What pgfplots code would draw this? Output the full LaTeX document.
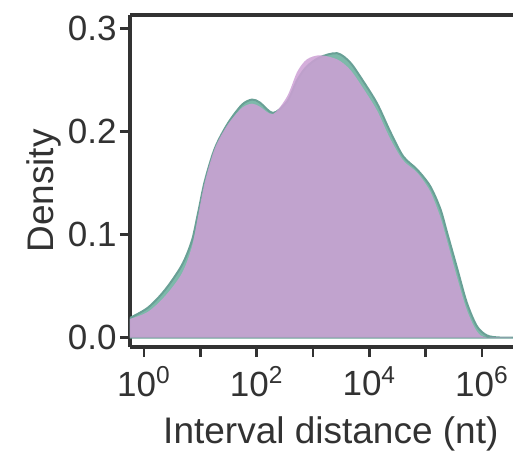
\documentclass[border=0pt]{standalone}
\usepackage{fontspec}
\setmainfont{Liberation Sans}
\usepackage{pgfplots}
\pgfplotsset{compat=1.18}
\usepackage{pgfplotstable}
\definecolor{tealfill}{RGB}{125,185,170}
\definecolor{tealline}{RGB}{105,160,150}
\definecolor{purp}{RGB}{205,160,213}
\definecolor{axgray}{RGB}{50,50,50}
\pgfplotstableread{
lx d
-0.25 0.019
0.07 0.029
0.37 0.046
0.67 0.070
0.85 0.094
0.96 0.121
1.08 0.152
1.26 0.184
1.49 0.208
1.74 0.226
1.92 0.231
2.06 0.228
2.29 0.218
2.54 0.229
2.72 0.250
2.89 0.263
3.12 0.272
3.43 0.276
3.66 0.267
3.89 0.249
4.14 0.227
4.37 0.200
4.60 0.176
4.85 0.163
5.08 0.147
5.26 0.125
5.38 0.102
5.56 0.067
5.73 0.034
5.91 0.011
6.09 0.002
6.32 0.0
6.68 0.0
}\teal
\pgfplotstableread{
lx d
-0.25 0.018
0.07 0.025
0.37 0.040
0.67 0.062
0.85 0.088
0.96 0.118
1.08 0.151
1.26 0.184
1.49 0.207
1.74 0.223
1.92 0.227
2.06 0.224
2.29 0.217
2.54 0.234
2.72 0.258
2.89 0.270
3.12 0.274
3.43 0.270
3.66 0.260
3.89 0.242
4.14 0.220
4.37 0.193
4.60 0.172
4.85 0.160
5.08 0.142
5.26 0.117
5.38 0.094
5.56 0.058
5.73 0.027
5.91 0.006
6.09 0.0
6.68 0.0
}\purple
\begin{document}
\begin{tikzpicture}
\begin{axis}[
  at={(0,0)}, anchor=south west,
  scale only axis, width=195pt, height=166pt,
  xmin=-0.2485, xmax=6.675,
  ymin=-0.0092, ymax=0.3131,
  axis lines=left,
  clip mode=individual,
  xtick={0,1,2,3,4,5,6},
  xticklabels={10\textsuperscript{0},,10\textsuperscript{2},,10\textsuperscript{4},,10\textsuperscript{6}},
  ytick={0,0.1,0.2,0.3},
  yticklabels={0.0,0.1,0.2,0.3},
  tick align=outside, xtick pos=bottom, ytick pos=left,
  major tick length=5pt,
  axis line style={-, line width=1.6pt, axgray},
  every tick/.style={line width=1.4pt, axgray},
  tick label style={font=\fontsize{17.5}{20}\selectfont, text=axgray},
  yticklabel style={inner sep=1.5pt},
  xticklabel style={inner sep=2pt, yshift=-2.5pt},
  label style={font=\fontsize{18.5}{21}\selectfont, text=axgray},
  xlabel={Interval distance (nt)},
  xlabel style={at={(rel axis cs:0.515,-0.2896)}, anchor=base},
  ylabel={Density},
  ylabel style={at={(rel axis cs:-0.1974,0.47)}, anchor=base, rotate=0},
]
\addplot[fill=tealfill, draw=tealline, line width=1pt, smooth] table[x=lx,y=d]{\teal} \closedcycle;
\addplot[fill=purp, fill opacity=0.85, draw=none, smooth] table[x=lx,y=d]{\purple} \closedcycle;
\draw[axgray, line width=1.6pt] (rel axis cs:0,1) -- (rel axis cs:1,1);
\end{axis}
\pgfresetboundingbox
\path[use as bounding box] (-65pt,-54pt) rectangle (191.5pt,173.5pt);
\end{tikzpicture}
\end{document}
